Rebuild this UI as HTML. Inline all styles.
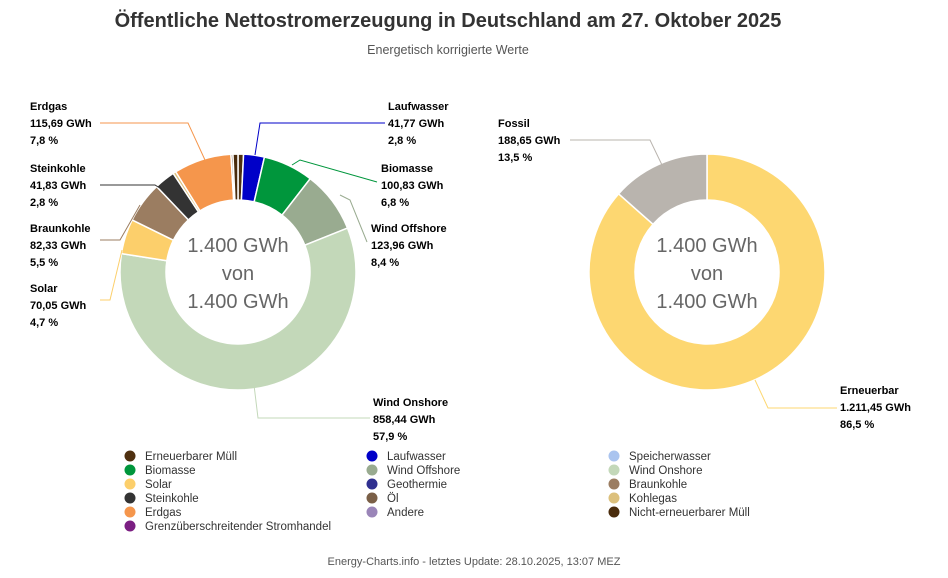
<!DOCTYPE html>
<html><head><meta charset="utf-8"><style>
body{margin:0;background:#fff;font-family:"Liberation Sans",sans-serif;}
svg text{font-family:"Liberation Sans",sans-serif;}
</style></head><body>
<svg width="948" height="573" viewBox="0 0 948 573">
<text x="448" y="27" text-anchor="middle" font-size="20" font-weight="bold" fill="#333">Öffentliche Nettostromerzeugung in Deutschland am 27. Oktober 2025</text>
<text x="448" y="54" text-anchor="middle" font-size="12.5" fill="#555">Energetisch korrigierte Werte</text>
<g id="left"></g>
<g id="right"></g>
<g font-size="20" fill="#666" text-anchor="middle">
<text x="238" y="252">1.400 GWh</text>
<text x="238" y="280">von</text>
<text x="238" y="308">1.400 GWh</text>
<text x="707" y="252">1.400 GWh</text>
<text x="707" y="280">von</text>
<text x="707" y="308">1.400 GWh</text>
</g>
<g fill="none" stroke-width="1">
<polyline points="100,123 188,123 205,160" stroke="#f5964c"/>
<polyline points="100,185 155,185 163,190" stroke="#333"/>
<polyline points="100,240 120,240 140,205" stroke="#9b7d61"/>
<polyline points="100,300 110,300 122,250" stroke="#fccf6b"/>
<polyline points="385,123 260,123 255,155" stroke="#0000c8"/>
<polyline points="377,182 300,160 292,165" stroke="#00963c"/>
<polyline points="367,242 350,200 340,195" stroke="#99ab90"/>
<polyline points="370,418 258,418 254,385" stroke="#c3d8b9"/>
<polyline points="570,140 650,140 662,165" stroke="#b9b4ae"/>
<polyline points="837,408 768,408 755,380" stroke="#fdd771"/>
</g>
<g font-size="11" font-weight="bold" fill="#000" id="labels"></g>
<g id="legend" font-size="11.5" fill="#333"></g>
<text x="474" y="565" text-anchor="middle" font-size="11" fill="#555">Energy-Charts.info - letztes Update: 28.10.2025, 13:07 MEZ</text>
</svg>
<script>
const NS="http://www.w3.org/2000/svg";
const leftNames=["Erneuerbarer Müll","Laufwasser","Biomasse","Wind Offshore","Wind Onshore","Solar","Braunkohle","Steinkohle","Kohlegas","Erdgas","Öl","Nicht-erneuerbarer Müll"];
const leftValues=[11,41.77,100.83,123.96,858.44,70.05,82.33,41.83,6,115.69,4,10];
const leftColors=["#4f3010","#0000c8","#00963c","#99ab90","#c3d8b9","#fccf6b","#9b7d61","#333333","#dcc07c","#f5964c","#7a5f47","#4a2c0c"];
const rightNames=["Erneuerbar","Fossil"];
const rightValues=[1211.45,188.65];
const rightColors=["#fdd771","#b9b4ae"];
function arc(cx,cy,r0,r1,a0,a1){
 const p=(r,a)=>[cx+r*Math.sin(a),cy-r*Math.cos(a)];
 const l=a1-a0>Math.PI?1:0;
 const [x0,y0]=p(r1,a0),[x1,y1]=p(r1,a1),[x2,y2]=p(r0,a1),[x3,y3]=p(r0,a0);
 return `M${x0},${y0}A${r1},${r1} 0 ${l} 1 ${x1},${y1}L${x2},${y2}A${r0},${r0} 0 ${l} 0 ${x3},${y3}Z`;
}
function donut(g,cx,cy,names,vals,cols){
 const tot=vals.reduce((a,b)=>a+b,0);let a=0;
 vals.forEach((v,i)=>{
  const a1=a+v/tot*2*Math.PI;
  const p=document.createElementNS(NS,"path");
  p.setAttribute("d",arc(cx,cy,72,118,a,a1));
  p.setAttribute("fill",cols[i]);p.setAttribute("stroke","#fff");p.setAttribute("stroke-width","1.5");
  
  
  g.appendChild(p);a=a1;
 });
}
donut(document.getElementById("left"),238,272,leftNames,leftValues,leftColors);
donut(document.getElementById("right"),707,272,rightNames,rightValues,rightColors);
const labelText=[["Erdgas","115,69 GWh","7,8 %",30,110],["Steinkohle","41,83 GWh","2,8 %",30,172],["Braunkohle","82,33 GWh","5,5 %",30,232],["Solar","70,05 GWh","4,7 %",30,292],
["Laufwasser","41,77 GWh","2,8 %",388,110],["Biomasse","100,83 GWh","6,8 %",381,172],["Wind Offshore","123,96 GWh","8,4 %",371,232],["Wind Onshore","858,44 GWh","57,9 %",373,406],
["Fossil","188,65 GWh","13,5 %",498,127],["Erneuerbar","1.211,45 GWh","86,5 %",840,394]];
const lg=document.getElementById("labels");
labelText.forEach(l=>{
 const t=document.createElementNS(NS,"text");
 
 
 t.setAttribute("x",l[3]);t.setAttribute("y",l[4]);
 [l[0],l[1],l[2]].forEach((s,k)=>{const ts=document.createElementNS(NS,"tspan");ts.setAttribute("x",l[3]);if(k)ts.setAttribute("dy","17");ts.textContent=s;t.appendChild(ts);});
 lg.appendChild(t);
});
const legendNames=["Erneuerbarer Müll","Laufwasser","Speicherwasser","Biomasse","Wind Offshore","Wind Onshore","Solar","Geothermie","Braunkohle","Steinkohle","Öl","Kohlegas","Erdgas","Andere","Nicht-erneuerbarer Müll","Grenzüberschreitender Stromhandel"];
const legendColors=["#4f3010","#0000c8","#aac4ef","#00963c","#99ab90","#c3d8b9","#fccf6b","#303090","#9b7d61","#333333","#7a5f47","#dcc07c","#f5964c","#9a85b8","#4a2c0c","#7b1f82"];
const leg=document.getElementById("legend");
legendNames.forEach((n,i)=>{
 const col=i%3,row=Math.floor(i/3);
 const x=[130,372,614][col],y=456+row*14;
 const g=document.createElementNS(NS,"g");
 
 
 const c=document.createElementNS(NS,"circle");c.setAttribute("cx",x);c.setAttribute("cy",y);c.setAttribute("r",5.5);c.setAttribute("fill",legendColors[i]);
 const t=document.createElementNS(NS,"text");t.setAttribute("x",x+15);t.setAttribute("y",y+4);t.textContent=n;
 g.appendChild(c);g.appendChild(t);leg.appendChild(g);
});
</script>
</body></html>
